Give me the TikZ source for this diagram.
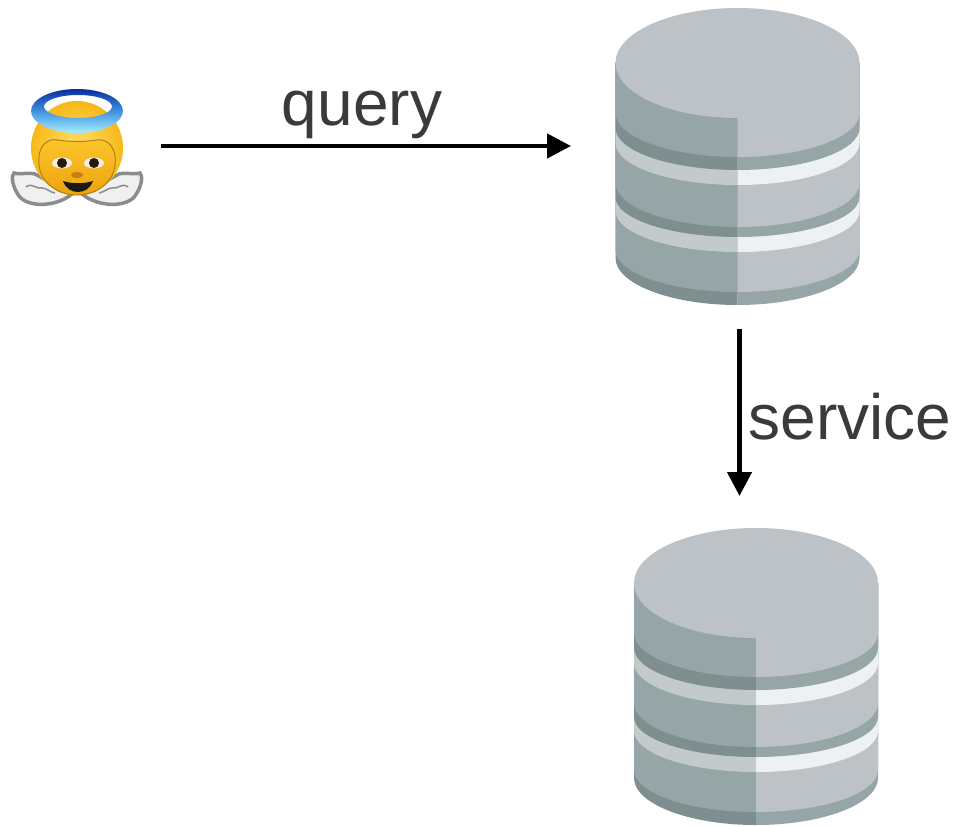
\documentclass[tikz,border=0pt]{standalone}
\usepackage{fontspec}
\setmainfont{Liberation Sans}
\usetikzlibrary{arrows.meta}
\usetikzlibrary{positioning}
\definecolor{dbtop}{HTML}{BDC2C6}
\definecolor{dbbody}{HTML}{96A6A6}
\definecolor{dbband}{HTML}{7F8F8F}
\definecolor{dblight}{HTML}{C3CACC}
\definecolor{dbwhite}{HTML}{EDF1F2}
\definecolor{mtext}{HTML}{3A3A3A}
\definecolor{mhead}{HTML}{F6B816}
\definecolor{mglow}{HTML}{FFE070}
\definecolor{mface}{HTML}{FBC62C}
\definecolor{mchin}{HTML}{EDA30E}
\definecolor{mhair}{HTML}{B57F10}
\definecolor{mnose}{HTML}{C97F10}
\definecolor{mwing}{HTML}{8C8C8C}
\definecolor{mhalotop}{HTML}{0A2C9E}
\definecolor{mhalomid}{HTML}{3E93E0}
\definecolor{mhalolow}{HTML}{A6EEFF}
\tikzset{box/.style = {inner sep = 0, outer sep = 0}}
\tikzset{label/.style = {text = mtext, font = \fontsize{64}{64}\selectfont}}
\tikzset{flow/.style = {line width = 4.5, -{Triangle[length = 24, width = 24]}}}
\tikzset{database/.pic = {
  \foreach \e/\m/\cl/\cr in {258/305/dbband/dbbody, 250/292/dbbody/dbtop, 211/252/dblight/dbwhite,
      197/237/dbband/dbbody, 183/227/dbbody/dbtop, 143/185/dblight/dbwhite,
      128/170/dbband/dbbody, 113/157/dbbody/dbtop} {
    \fill [\cl] (-122, 63) -- (-122, \e) .. controls (-122, {\e + 0.55 * (\m - \e)}) and (-67, \m) .. (0, \m) -- (0, 63) -- cycle;
    \fill [\cr] (122, 63) -- (122, \e) .. controls (122, {\e + 0.55 * (\m - \e)}) and (67, \m) .. (0, \m) -- (0, 63) -- cycle;
  }
  \fill [dbtop] (0, 63) ellipse (122 and 55);
}}

\begin{document}
\begin{tikzpicture}[x = 1pt, y = -1pt]
  \useasboundingbox [fill = white] (0, 0) rectangle (957, 826);

  % databases
  \pic at (737.5, 0) {database};
  \pic at (756, 520) {database};
  \node [box, minimum width = 245, minimum height = 298] (dbfront) at (737.5, 157) {};
  \node [box, minimum width = 245, minimum height = 298] (dbback) at (756, 677) {};

  % angel
  \node [box, minimum width = 135, minimum height = 120] (angel) at (77, 146) {};
  \foreach \s in {1, -1} {
    \begin{scope}[shift = {(77, 0)}, xscale = \s]
      \draw [line width = 3.5, draw = mwing, fill = black!6]
        (-5, 194) .. controls (-22, 208) and (-50, 207) .. (-58, 196)
        .. controls (-65, 186) and (-66, 176) .. (-63, 173)
        .. controls (-55, 175) and (-50, 172) .. (-42, 174)
        .. controls (-35, 178) and (-25, 182) .. (-18, 190) -- cycle;
      \draw [line width = 1.5, draw = mwing]
        (-51, 187) .. controls (-45, 182) and (-40, 190) .. (-35, 188) .. controls (-30, 188) and (-28, 192) .. (-22, 193);
    \end{scope}
  }
  \shade [inner color = mglow, outer color = mhead] (77, 148) ellipse (46 and 47);
  \draw [line width = 1, draw = mhair, top color = mface, bottom color = mchin] (39, 165) .. controls (37, 145) and (48, 138) .. (58, 140)
    .. controls (68, 142) and (86, 142) .. (96, 140) .. controls (108, 138) and (117, 148) .. (115, 165)
    .. controls (113, 184) and (95, 195) .. (77, 195) .. controls (59, 195) and (41, 184) .. (39, 165) -- cycle;
  \foreach \x in {62, 94} {
    \fill [white!85!brown] (\x, 163) ellipse (10 and 5.5);
    \fill [black!80!brown] (\x, 163) circle (5);
  }
  \fill [mnose] (77, 175) ellipse (6 and 3);
  \fill [black!90] (63, 181) .. controls (72, 184) and (84, 184) .. (93, 181) .. controls (90, 189) and (84, 192) .. (78, 192) .. controls (72, 192) and (66, 189) .. (63, 181) -- cycle;
  \shade [even odd rule, top color = mhalotop, bottom color = mhalolow, middle color = mhalomid]
    (77, 111) ellipse (46 and 22) (78, 106.5) ellipse (34 and 11.5);

  % arrows and labels
  \node [box, label] (query) at (362, 115) {query};
  \node [box, label] (service) at (850, 417) {service};
  \draw [flow, shorten <= 16, shorten >= 44] (angel.east) -- (angel.east -| dbfront.west);
  \draw [flow, shorten <= 23, shorten >= 32] ([xshift = 2]dbfront.south) -- ([xshift = 2]dbfront.south |- dbback.north);
\end{tikzpicture}
\end{document}
